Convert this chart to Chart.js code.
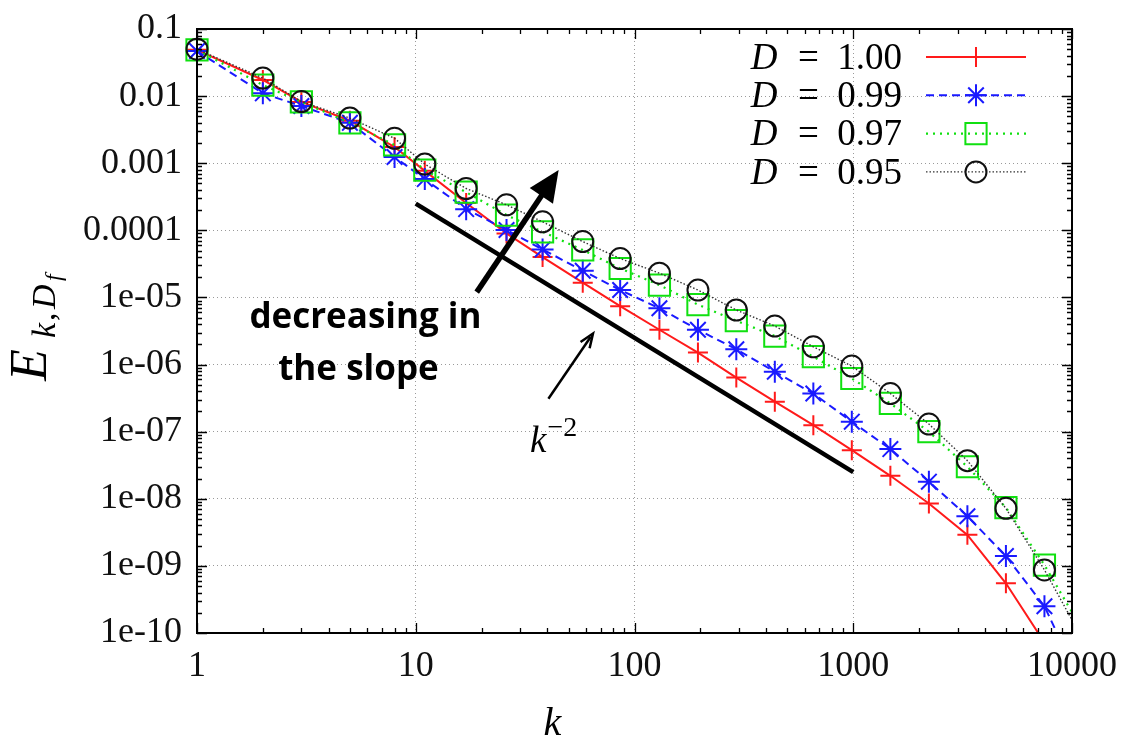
<!DOCTYPE html>
<html>
<head>
<meta charset="utf-8">
<script src="https://cdn.jsdelivr.net/npm/chart.js@4.4.0/dist/chart.umd.min.js"></script>
<style>
  html, body { margin: 0; padding: 0; background: #fff; }
  #wrap { width: 1128px; height: 739px; }
</style>
</head>
<body>
<div id="wrap"><canvas id="spectrum" width="1128" height="739"></canvas></div>
<script>
// shell wavenumbers (ratio ~1.5 between shells)
const kValues = [1, 2, 3, 5, 8, 11, 17, 26, 38, 58, 86, 130, 195, 292, 438, 657, 985, 1478, 2217, 3325, 4988, 7482, 11223];

// energy spectra for each fractal dimension D
const energyD100 = [4.9e-2, 1.74e-2, 8.2e-3, 4.3e-3, 1.74e-3, 7.7e-4, 2.55e-4, 9.0e-5, 4.0e-5, 1.66e-5, 7.4e-6, 3.3e-6, 1.51e-6, 6.4e-7, 2.8e-7, 1.25e-7, 5.3e-8, 2.2e-8, 8.5e-9, 2.9e-9, 5.5e-10, 7.2e-11, 5e-12];
const energyD099 = [4.7e-2, 1.1e-2, 7.1e-3, 4.0e-3, 1.24e-3, 5.8e-4, 2.07e-4, 1.01e-4, 5.2e-5, 2.5e-5, 1.29e-5, 6.9e-6, 3.3e-6, 1.69e-6, 7.8e-7, 3.7e-7, 1.41e-7, 5.5e-8, 1.8e-8, 5.5e-9, 1.4e-9, 2.5e-10, 1.5e-11];
const energyD097 = [4.9e-2, 1.46e-2, 8.2e-3, 4.0e-3, 1.87e-3, 7.9e-4, 3.7e-4, 1.69e-4, 9.5e-5, 5.1e-5, 2.7e-5, 1.53e-5, 7.8e-6, 4.5e-6, 2.66e-6, 1.31e-6, 6.2e-7, 2.64e-7, 1.0e-7, 3.0e-8, 7.4e-9, 1.03e-9, 1.07e-10];
const energyD095 = [5.0e-2, 1.86e-2, 8.3e-3, 4.7e-3, 2.35e-3, 9.7e-4, 4.2e-4, 2.4e-4, 1.34e-4, 6.8e-5, 3.8e-5, 2.3e-5, 1.29e-5, 6.5e-6, 3.75e-6, 1.84e-6, 9.5e-7, 3.7e-7, 1.3e-7, 3.7e-8, 7.2e-9, 8.7e-10, 7.9e-11];

// k^-2 reference slope
const slopeK = [10, 1000];
const slopeE = [2.5e-4, 2.5e-8];

// axis ticks
const xTickValues = [1, 10, 100, 1000, 10000];
const xTickLabels = ['1', '10', '100', '1000', '10000'];
const yTickValues = [1e-10, 1e-9, 1e-8, 1e-7, 1e-6, 1e-5, 1e-4, 1e-3, 1e-2, 1e-1];
const yTickLabels = ['1e-10', '1e-09', '1e-08', '1e-07', '1e-06', '1e-05', '0.0001', '0.001', '0.01', '0.1'];

// legend numbers
const legendD = ['1.00', '0.99', '0.97', '0.95'];

// annotation anchors in data units [k, E]
const bigArrow = [[19, 1.2e-5], [45, 7.9e-4]];
const smallArrow = [[40.4, 3.1e-7], [64.6, 2.9e-6]];
const noteLine1 = [5.89, 3.5e-6];
const noteLine2 = [5.47, 5.9e-7];
const slopeLabel = [33.3, 5.0e-8];

const SERIF = '"Liberation Serif", "DejaVu Serif", serif';

function pairs(ks, es) {
  return ks.map((k, i) => ({ x: k, y: es[i] }));
}

const clipBox = { left: 16, top: 16, right: 0, bottom: 0 };

const datasets = [
  {
    label: 'D = 1.00', data: pairs(kValues, energyD100), order: 4,
    borderColor: '#ff1a1a', borderWidth: 2, borderDash: [],
    pointStyle: 'cross', pointRadius: 10, pointBorderWidth: 2,
    pointBorderColor: '#ff1a1a', pointBackgroundColor: 'transparent'
  },
  {
    label: 'D = 0.99', data: pairs(kValues, energyD099), order: 3,
    borderColor: '#1a1aff', borderWidth: 2, borderDash: [8, 5],
    pointStyle: 'star', pointRadius: 11, pointBorderWidth: 2,
    pointBorderColor: '#1a1aff', pointBackgroundColor: 'transparent'
  },
  {
    label: 'D = 0.97', data: pairs(kValues, energyD097), order: 2,
    borderColor: '#10e010', borderWidth: 2.2, borderDash: [2, 5],
    pointStyle: 'rect', pointRadius: 15, pointBorderWidth: 2,
    pointBorderColor: '#10e010', pointBackgroundColor: 'transparent'
  },
  {
    label: 'D = 0.95', data: pairs(kValues, energyD095), order: 1,
    borderColor: '#333', borderWidth: 1.4, borderDash: [1.5, 2],
    pointStyle: 'circle', pointRadius: 10.5, pointBorderWidth: 2,
    pointBorderColor: '#111', pointBackgroundColor: 'transparent'
  },
  {
    label: 'slope', data: pairs(slopeK, slopeE), order: 5,
    borderColor: '#000', borderWidth: 4.5, pointRadius: 0
  }
];
datasets.forEach(d => { d.tension = 0; d.fill = false; d.clip = clipBox; });

function px(chart, p) {
  return [chart.scales.x.getPixelForValue(p[0]), chart.scales.y.getPixelForValue(p[1])];
}

function drawArrow(ctx, a, b, width, headLen, headHalf, filled) {
  const ang = Math.atan2(b[1] - a[1], b[0] - a[0]);
  const bx = b[0] - headLen * Math.cos(ang) * (filled ? 0.8 : 0.3);
  const by = b[1] - headLen * Math.sin(ang) * (filled ? 0.8 : 0.3);
  ctx.lineWidth = width;
  ctx.lineCap = 'butt';
  ctx.beginPath();
  ctx.moveTo(a[0], a[1]);
  ctx.lineTo(bx, by);
  ctx.stroke();
  const cx = b[0] - headLen * Math.cos(ang), cy = b[1] - headLen * Math.sin(ang);
  const nx = -Math.sin(ang) * headHalf, ny = Math.cos(ang) * headHalf;
  ctx.beginPath();
  ctx.moveTo(cx + nx, cy + ny);
  ctx.lineTo(b[0], b[1]);
  ctx.lineTo(cx - nx, cy - ny);
  if (filled) {
    ctx.closePath();
    ctx.fill();
  } else {
    ctx.lineJoin = 'miter';
    ctx.stroke();
  }
}

// frame, inward ticks, notes, legend and axis titles
const decorations = {
  id: 'decorations',
  afterDatasetsDraw(chart) {
    const ctx = chart.ctx;
    const { left, right, top, bottom } = chart.chartArea;
    const xs = chart.scales.x, ys = chart.scales.y;
    ctx.save();
    ctx.strokeStyle = '#000';
    ctx.fillStyle = '#000';

    // inward tick marks on all four sides
    ctx.lineWidth = 1.3;
    ctx.beginPath();
    for (let d = 1; d <= 10000; d *= 10) {
      for (let m = 1; m < 10; m++) {
        const v = d * m;
        if (v > 10000) break;
        const x = Math.round(xs.getPixelForValue(v)) + 0.5;
        const len = m === 1 ? 10 : 5;
        ctx.moveTo(x, bottom); ctx.lineTo(x, bottom - len);
        ctx.moveTo(x, top); ctx.lineTo(x, top + len);
      }
    }
    for (let d = 1e-10; d <= 0.1 * 1.0001; d *= 10) {
      for (let m = 1; m < 10; m++) {
        const v = d * m;
        if (v > 0.1 * 1.0001) break;
        const y = Math.round(ys.getPixelForValue(v)) + 0.5;
        const len = m === 1 ? 10 : 5;
        ctx.moveTo(left, y); ctx.lineTo(left + len, y);
        ctx.moveTo(right, y); ctx.lineTo(right - len, y);
      }
    }
    ctx.stroke();

    // plot frame
    ctx.lineWidth = 2;
    ctx.strokeRect(left, top, right - left, bottom - top);

    // arrows
    drawArrow(ctx, px(chart, bigArrow[0]), px(chart, bigArrow[1]), 5.5, 31, 14, true);
    drawArrow(ctx, px(chart, smallArrow[0]), px(chart, smallArrow[1]), 2.5, 14, 5.5, false);

    // bold note
    ctx.font = 'bold 35px "Open Sans", "Noto Sans", sans-serif';
    ctx.textAlign = 'center';
    ctx.textBaseline = 'alphabetic';
    let p = px(chart, noteLine1);
    ctx.fillText('decreasing in', p[0], p[1]);
    p = px(chart, noteLine2);
    ctx.fillText('the slope', p[0], p[1]);

    // k^-2 label
    p = px(chart, slopeLabel);
    ctx.textAlign = 'left';
    ctx.font = 'italic 37px ' + SERIF;
    ctx.fillText('k', p[0], p[1]);
    const kw = ctx.measureText('k').width;
    ctx.font = '28px ' + SERIF;
    ctx.fillText('\u22122', p[0] + kw + 1, p[1] - 16);

    // legend
    const legendRight = right - 170;
    datasets.slice(0, 4).forEach((ds, i) => {
      const y = top + 28 + i * 38.3;
      ctx.font = '37px ' + SERIF;
      const numText = '  =  ' + legendD[i];
      const numW = ctx.measureText(numText).width;
      ctx.font = 'italic 37px ' + SERIF;
      const dW = ctx.measureText('D').width + 2;
      const x0 = legendRight - numW - dW;
      ctx.textBaseline = 'middle';
      ctx.textAlign = 'left';
      ctx.fillStyle = '#000';
      ctx.fillText('D', x0, y + 2);
      ctx.font = '37px ' + SERIF;
      ctx.fillText(numText, x0 + dW, y + 2);

      ctx.save();
      ctx.strokeStyle = ds.borderColor;
      ctx.lineWidth = ds.borderWidth;
      ctx.setLineDash(ds.borderDash || []);
      ctx.beginPath();
      ctx.moveTo(right - 146, y);
      ctx.lineTo(right - 46, y);
      ctx.stroke();
      ctx.setLineDash([]);
      ctx.strokeStyle = ds.pointBorderColor;
      ctx.fillStyle = 'transparent';
      ctx.lineWidth = ds.pointBorderWidth;
      Chart.helpers.drawPoint(ctx, {
        pointStyle: ds.pointStyle, radius: ds.pointRadius, rotation: 0, borderWidth: ds.pointBorderWidth
      }, right - 96, y);
      ctx.restore();
    });

    // x title
    ctx.fillStyle = '#000';
    ctx.textAlign = 'center';
    ctx.textBaseline = 'alphabetic';
    ctx.font = 'italic 40px ' + SERIF;
    ctx.fillText('k', (left + right) / 2 - 82, bottom + 102);

    // y title E_{k,D_f}
    ctx.save();
    ctx.translate(46, 381);
    ctx.rotate(-Math.PI / 2);
    ctx.textAlign = 'left';
    ctx.font = 'italic 52px ' + SERIF;
    ctx.fillText('E', 0, 0);
    ctx.font = 'italic 34px ' + SERIF;
    ctx.fillText('k', 43, 9);
    ctx.font = '34px ' + SERIF;
    ctx.fillText(',', 60, 9);
    ctx.font = 'italic 34px ' + SERIF;
    ctx.fillText('D', 72, 9);
    ctx.font = 'italic 24px ' + SERIF;
    ctx.fillText('f', 100, 15);
    ctx.restore();

    ctx.restore();
  }
};

new Chart(document.getElementById('spectrum'), {
  type: 'line',
  data: { datasets: datasets },
  plugins: [decorations],
  options: {
    responsive: false,
    animation: false,
    events: [],
    devicePixelRatio: 1,
    layout: { padding: { left: 0, right: 56, top: 29, bottom: 0 } },
    plugins: { legend: { display: false }, tooltip: { enabled: false } },
    scales: {
      x: {
        type: 'logarithmic', min: 1, max: 10000,
        afterBuildTicks: s => { s.ticks = xTickValues.map(v => ({ value: v })); },
        afterFit: s => { s.height = 106; s.paddingLeft = 0; s.paddingRight = 0; },
        ticks: {
          callback: (v, i) => xTickLabels[i], autoSkip: false, maxRotation: 0,
          padding: 12, color: '#111', font: { family: SERIF, size: 36 }
        },
        grid: { color: '#9a9a9a', lineWidth: 1, drawTicks: false },
        border: { display: false, dash: [1, 3] }
      },
      y: {
        type: 'logarithmic', min: 1e-10, max: 0.1,
        afterBuildTicks: s => { s.ticks = yTickValues.map(v => ({ value: v })); },
        afterFit: s => { s.width = 197; s.paddingTop = 0; s.paddingBottom = 0; },
        ticks: {
          callback: (v, i) => yTickLabels[i], autoSkip: false,
          padding: 15, color: '#111', font: { family: SERIF, size: 36 }
        },
        grid: { color: '#9a9a9a', lineWidth: 1, drawTicks: false },
        border: { display: false, dash: [1, 3] }
      }
    }
  }
});
</script>
</body>
</html>
